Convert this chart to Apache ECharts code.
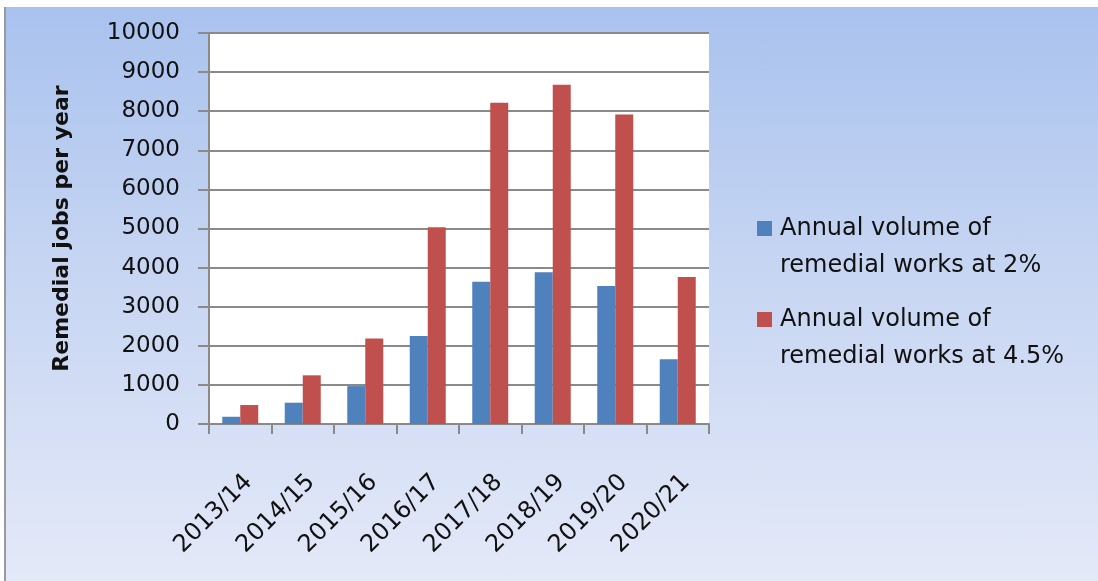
<!DOCTYPE html>
<html>
<head>
<meta charset="utf-8">
<script src="https://cdn.jsdelivr.net/npm/echarts@6/dist/echarts.min.js"></script>
<style>
  html, body { margin: 0; padding: 0; background: #ffffff; width: 1098px; height: 581px; overflow: hidden; }
  #bg { position: absolute; left: 4px; top: 7px; width: 1094px; height: 574px;
        border-left: 2px solid #9a9a9a; box-sizing: border-box;
        background: linear-gradient(to bottom, #a9c2ee 0%, #c6d5f2 45%, #e4e9f8 100%); }
  #chart { position: absolute; left: 0; top: 0; width: 1098px; height: 581px; }
</style>
</head>
<body>
<div id="bg"></div>
<div id="chart"></div>
<script>
const categories = ['2013/14', '2014/15', '2015/16', '2016/17', '2017/18', '2018/19', '2019/20', '2020/21'];
const seriesNames = ['Annual volume of\nremedial works at 2%', 'Annual volume of\nremedial works at 4.5%'];
const volume2pct = [185, 545, 970, 2250, 3640, 3880, 3530, 1655];
const volume45pct = [485, 1245, 2185, 5030, 8215, 8675, 7915, 3760];
const yAxisTitle = 'Remedial jobs per year';
const yMin = 0, yMax = 10000, yStep = 1000;

const FONT = 'DejaVu Sans';
const chart = echarts.init(document.getElementById('chart'), null, { renderer: 'canvas' });

function legendFor(idx, top) {
  return {
    data: [seriesNames[idx]],
    left: 757,
    top: top,
    orient: 'vertical',
    icon: 'rect',
    itemWidth: 15,
    itemHeight: 15,
    itemGap: 0,
    padding: 0,
    selectedMode: false,
    formatter: function (n) { return '\n' + n; },
    textStyle: { fontFamily: FONT, fontSize: 24, color: '#111', lineHeight: 37, padding: [0, 0, 0, 3] }
  };
}

chart.setOption({
  backgroundColor: 'transparent',
  animation: false,
  grid: { left: 209, top: 33, width: 500, height: 391, backgroundColor: '#ffffff', show: true, borderWidth: 0 },
  legend: [legendFor(0, 173), legendFor(1, 264)],
  xAxis: {
    type: 'category',
    data: categories,
    axisLine: { lineStyle: { color: '#8a8a8a', width: 2 } },
    axisTick: { show: true, length: 10, alignWithLabel: false, lineStyle: { color: '#8a8a8a', width: 2 } },
    axisLabel: { rotate: 45, margin: 46, verticalAlign: 'top', fontFamily: FONT, fontSize: 24, color: '#111', interval: 0 },
    splitLine: { show: false }
  },
  yAxis: {
    type: 'value',
    min: yMin, max: yMax, interval: yStep,
    name: yAxisTitle,
    nameLocation: 'middle',
    nameGap: 136,
    nameTextStyle: { fontFamily: FONT, fontSize: 22, fontWeight: 'bold', color: '#111' },
    axisLine: { show: true, lineStyle: { color: '#8a8a8a', width: 2 } },
    axisTick: { show: true, length: 11, lineStyle: { color: '#8a8a8a', width: 2 } },
    axisLabel: { margin: 29, fontFamily: FONT, fontSize: 23, color: '#111', formatter: function (v) { return String(v); } },
    splitLine: { show: true, lineStyle: { color: '#8a8a8a', width: 2 } }
  },
  series: [
    { name: seriesNames[0], type: 'bar', data: volume2pct, barWidth: 18, barGap: '0%',
      itemStyle: { color: '#4f81bd' } },
    { name: seriesNames[1], type: 'bar', data: volume45pct, barWidth: 18, barGap: '0%',
      itemStyle: { color: '#c0504d' } }
  ]
});
</script>
</body>
</html>
